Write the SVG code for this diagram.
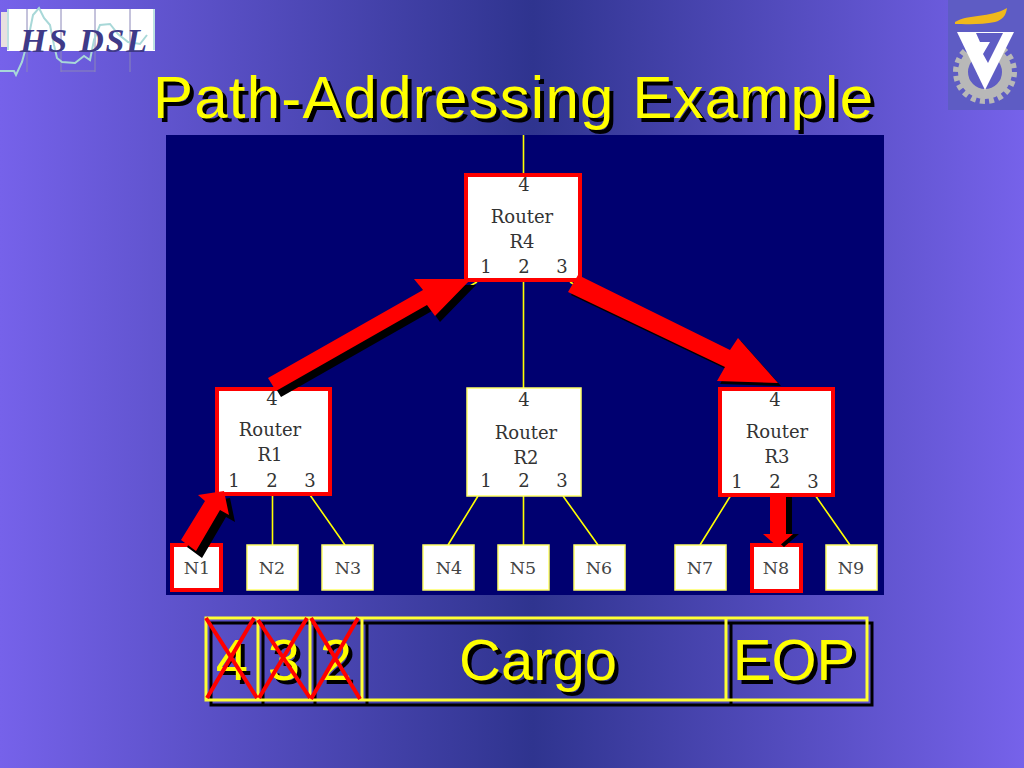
<svg xmlns="http://www.w3.org/2000/svg" width="1024" height="768" viewBox="0 0 1024 768">
<style>
.t{font-family:"Liberation Sans",Arial,sans-serif;fill:#ffff00}
.s{font-family:"Liberation Sans",Arial,sans-serif;fill:#000}
.l{font-family:"DejaVu Serif",serif;font-size:18px;fill:#333;text-anchor:middle}
.n{font-family:"DejaVu Serif",serif;font-size:17.500px;fill:#444;text-anchor:middle}
.box{fill:#fff;stroke:#ffff66;stroke-width:1.5}
.red{fill:#fff;stroke:#f00;stroke-width:4}
.w{stroke:#ffff00;stroke-width:1.6;fill:none}
.y{fill:none;stroke:#ffff33;stroke-width:3}
.k{fill:none;stroke:#000;stroke-width:3}
.x{stroke:#f00;stroke-width:4}
</style>
<defs>
<linearGradient id="bg" x1="0" x2="1" y1="0" y2="0">
<stop offset="0" stop-color="#7662ea"/><stop offset="0.52" stop-color="#2f348f"/><stop offset="1" stop-color="#7662ea"/>
</linearGradient>
</defs>
<rect width="1024" height="768" fill="url(#bg)"/>

<g id="logo-hsdsl">
<rect x="1" y="12" width="6" height="35" fill="#e8e0e0"/>
<rect x="7" y="9" width="148" height="42" fill="#fff"/>
<path d="M8 9V50M154 9V50" stroke="#a8d8d8" stroke-width="1.500" fill="none"/>
<path d="M27 9V72M61 9V72M95 9V72M130 9V72M61 71H95" stroke="#8a86b8" stroke-width="1" fill="none"/>
<path d="M0 71H14L16 75L22 62L28 40L33 15L39 8L44 18L50 25L54 45L57 58L62 62L75 63L84 56L90 60L94 40L100 25L110 24L118 34L128 42L140 44L147 35" fill="none" stroke="#a8d8d8" stroke-width="2"/>
<text x="20" y="52" font-family="Liberation Serif,serif" font-style="italic" font-weight="bold" font-size="34" fill="#3f3a88" textLength="127">HS DSL</text>
</g>

<g id="logo-technion">
<rect x="948" y="0" width="76" height="110" fill="#5e5cc4"/>
<circle cx="985" cy="72" r="22" fill="none" stroke="#b8b8b8" stroke-width="10"/>
<circle cx="985" cy="72" r="29" fill="none" stroke="#b8b8b8" stroke-width="6" stroke-dasharray="5 4.110"/>
<path d="M957 32L1014 32L985 90Z" fill="#fff"/>
<path d="M976 33H1003L988 63L983 54L990 42H980Z" fill="#5e5cc4"/>
<path d="M955 22C968 14 990 18 1007 8C1006 16 1002 20 995 22C982 25 965 24 955 24Z" fill="#f0b81c"/>
</g>

<g id="title">
<text class="s" x="157" y="122" font-size="60" textLength="720">Path-Addressing Example</text>
<text class="t" x="153" y="118" font-size="60" textLength="720">Path-Addressing Example</text>
</g>

<rect id="panel" x="166" y="135" width="718" height="460" fill="#000070"/>

<g id="connectors">
<path class="w" d="M523.500 135V175M523.500 280V388M272.500 495V545M310 495L345 545M478 496L448 545M523.500 496V545M563 496L598 545M731 495L700 545M815 495L850 545M470 286L477 282M570 282L577 286"/>
</g>

<g id="R4"><rect class="red" x="466" y="175" width="114" height="105"/>
<text class="l" x="524" y="191">4</text><text class="l" x="522" y="223">Router</text><text class="l" x="522" y="248">R4</text>
<text class="l" x="486" y="273">1</text><text class="l" x="524" y="273">2</text><text class="l" x="562" y="273">3</text></g>
<g id="R1"><rect class="red" x="217" y="389" width="113" height="105"/>
<text class="l" x="272" y="405">4</text><text class="l" x="270" y="436">Router</text><text class="l" x="270" y="461">R1</text>
<text class="l" x="234" y="487">1</text><text class="l" x="272" y="487">2</text><text class="l" x="310" y="487">3</text></g>
<g id="R2"><rect class="box" x="467" y="388" width="114" height="108"/>
<text class="l" x="524" y="406">4</text><text class="l" x="526" y="439">Router</text><text class="l" x="526" y="464">R2</text>
<text class="l" x="486" y="487">1</text><text class="l" x="524" y="487">2</text><text class="l" x="562" y="487">3</text></g>
<g id="R3"><rect class="red" x="720" y="389" width="113" height="106"/>
<text class="l" x="775" y="406">4</text><text class="l" x="777" y="438">Router</text><text class="l" x="777" y="463">R3</text>
<text class="l" x="737" y="488">1</text><text class="l" x="775" y="488">2</text><text class="l" x="813" y="488">3</text></g>

<g id="N1"><rect class="red" x="172" y="545" width="49" height="45"/><text class="n" x="197" y="574">N1</text></g>
<g id="N2"><rect class="box" x="247" y="545" width="51" height="45"/><text class="n" x="272" y="574">N2</text></g>
<g id="N3"><rect class="box" x="322" y="545" width="51" height="45"/><text class="n" x="348" y="574">N3</text></g>
<g id="N4"><rect class="box" x="423" y="545" width="51" height="45"/><text class="n" x="449" y="574">N4</text></g>
<g id="N5"><rect class="box" x="498" y="545" width="51" height="45"/><text class="n" x="523" y="574">N5</text></g>
<g id="N6"><rect class="box" x="574" y="545" width="51" height="45"/><text class="n" x="599" y="574">N6</text></g>
<g id="N7"><rect class="box" x="675" y="545" width="51" height="45"/><text class="n" x="700" y="574">N7</text></g>
<g id="N8"><rect class="red" x="752" y="545" width="49" height="46"/><text class="n" x="776" y="574">N8</text></g>
<g id="N9"><rect class="box" x="826" y="545" width="51" height="45"/><text class="n" x="851" y="574">N9</text></g>

<g id="arrows">
<path transform="translate(5 6)" d="M268 378L423 290L414 279L471 279L435 316L427 305L276 391Z" fill="#000"/>
<path d="M268 378L423 290L414 279L471 279L435 316L427 305L276 391Z" fill="#f00"/>
<path transform="translate(3 3)" d="M578 275L730 350L738 338L778 383L717 381L725 367L568 292Z" fill="#000"/>
<path d="M578 275L730 350L738 338L778 383L717 381L725 367L568 292Z" fill="#f00"/>
<path transform="translate(6 7)" d="M181 540L205 501L198 495L224 491L229 515L220 510L196 551Z" fill="#000"/>
<path d="M181 540L205 501L198 495L224 491L229 515L220 510L196 551Z" fill="#f00"/>
<path transform="translate(6 0)" d="M770 497H786V534H793L778 547L763 534H770Z" fill="#000"/>
<path d="M770 497H786V534H793L778 547L763 534H770Z" fill="#f00"/>
</g>

<g id="packet">
<g transform="translate(5 5)">
<rect class="k" x="206" y="618" width="661" height="82"/>
<path class="k" d="M258 618V700M310 618V700M362 618V700M726 618V700"/>
</g>
<rect class="y" x="206" y="618" width="661" height="82"/>
<path class="y" d="M258 618V700M310 618V700M362 618V700M726 618V700"/>
<g font-size="58" text-anchor="middle">
<text class="s" x="236" y="684">4</text><text class="t" x="232" y="680">4</text>
<text class="s" x="288" y="684">3</text><text class="t" x="284" y="680">3</text>
<text class="s" x="340" y="684">2</text><text class="t" x="336" y="680">2</text>
<text class="s" x="542" y="684">Cargo</text><text class="t" x="538" y="680">Cargo</text>
<text class="s" x="798" y="684">EOP</text><text class="t" x="794" y="680">EOP</text>
</g>
<path class="x" d="M206 618L257 698M254 618L207 698M258 620L310 698M307 618L259 698M311 618L360 699M358 618L311 699"/>
</g>
</svg>
